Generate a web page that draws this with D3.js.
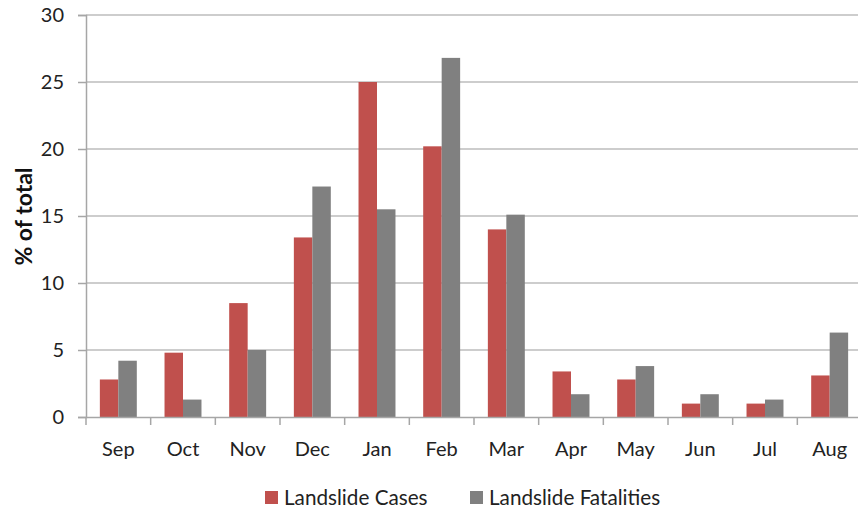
<!DOCTYPE html>
<html>
<head>
<meta charset="utf-8">
<script src="https://cdn.jsdelivr.net/npm/d3@7"></script>
<style>
  html, body { margin: 0; padding: 0; background: #fff; }
  svg { display: block; }
</style>
</head>
<body>
<svg id="chart" width="858" height="510"></svg>
<script>
// Monthly share of landslide cases and fatalities (% of total)
const months = ["Sep", "Oct", "Nov", "Dec", "Jan", "Feb", "Mar", "Apr", "May", "Jun", "Jul", "Aug"];
const landslideCases = [2.8, 4.8, 8.5, 13.4, 25.0, 20.2, 14.0, 3.4, 2.8, 1.0, 1.0, 3.1];
const landslideFatalities = [4.2, 1.3, 5.0, 17.2, 15.5, 26.8, 15.1, 1.7, 3.8, 1.7, 1.3, 6.3];
const seriesNames = ["Landslide Cases", "Landslide Fatalities"];
const seriesColors = ["#C0504D", "#808080"];
const yTicks = [0, 5, 10, 15, 20, 25, 30];

const series = [landslideCases, landslideFatalities];
const font = "Lato, 'Open Sans', sans-serif";

const svg = d3.select("#chart");
const plot = { left: 86, right: 862, top: 15, bottom: 417 };

const x = d3.scaleBand().domain(months).range([plot.left, plot.right]).paddingInner(0).paddingOuter(0);
const inner = d3.scaleBand().domain(d3.range(series.length)).range([0, x.bandwidth()]).paddingOuter(0.75).paddingInner(0);
const y = d3.scaleLinear().domain([0, 30]).range([plot.bottom, plot.top]);

// Horizontal gridlines
svg.append("g")
  .selectAll("line")
  .data(yTicks.filter(d => d > 0))
  .join("line")
  .attr("x1", plot.left).attr("x2", plot.right)
  .attr("y1", d => y(d)).attr("y2", d => y(d))
  .attr("stroke", "#bdbdbd").attr("stroke-width", 1.5);

// Bars
const groups = svg.append("g")
  .selectAll("g")
  .data(months)
  .join("g")
  .attr("transform", d => `translate(${x(d)},0)`);

groups.selectAll("rect")
  .data((m, i) => series.map((s, k) => ({ k, v: s[i] })))
  .join("rect")
  .attr("x", d => inner(d.k))
  .attr("width", inner.bandwidth())
  .attr("y", d => y(d.v))
  .attr("height", d => y(0) - y(d.v))
  .attr("fill", d => seriesColors[d.k]);

// Y axis
const yAxis = svg.append("g")
  .attr("transform", `translate(${plot.left},0)`)
  .call(d3.axisLeft(y).tickValues(yTicks).tickSize(8).tickPadding(14));
yAxis.select(".domain").attr("stroke", "#a6a6a6").attr("stroke-width", 1.5);
yAxis.selectAll(".tick line").attr("stroke", "#a6a6a6").attr("stroke-width", 1.5);
yAxis.selectAll("text").attr("font-family", font).attr("font-size", 20).attr("fill", "#222");

// X axis
const xAxis = svg.append("g")
  .attr("transform", `translate(0,${plot.bottom})`)
  .call(d3.axisBottom(x).tickSize(0).tickPadding(25));
xAxis.select(".domain").attr("stroke", "#a6a6a6").attr("stroke-width", 1.5);
xAxis.selectAll("text").attr("font-family", font).attr("font-size", 20).attr("fill", "#222");

// Category separator ticks
svg.append("g")
  .selectAll("line")
  .data(months)
  .join("line")
  .attr("x1", d => x(d)).attr("x2", d => x(d))
  .attr("y1", plot.bottom).attr("y2", plot.bottom + 8)
  .attr("stroke", "#a6a6a6").attr("stroke-width", 1.5);

// Y axis title
svg.append("text")
  .attr("transform", `translate(32,216.5) rotate(-90)`)
  .attr("text-anchor", "middle")
  .attr("font-family", font)
  .attr("font-weight", "bold")
  .attr("font-size", 23)
  .attr("fill", "#111")
  .text("% of total");

// Legend
const legendItems = [{ x: 265, tx: 284 }, { x: 470, tx: 489 }];
const legend = svg.append("g");
legendItems.forEach((it, k) => {
  legend.append("rect")
    .attr("x", it.x).attr("y", 491)
    .attr("width", 13).attr("height", 13)
    .attr("fill", seriesColors[k]);
  legend.append("text")
    .attr("x", it.tx).attr("y", 505)
    .attr("font-family", font)
    .attr("font-size", 20.7)
    .attr("fill", "#222")
    .text(seriesNames[k]);
});
</script>
</body>
</html>
